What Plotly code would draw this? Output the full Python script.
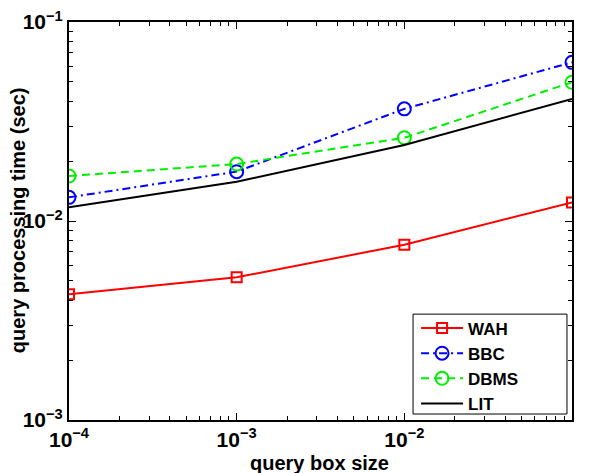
import plotly.graph_objects as go

box_size = [1e-4, 1e-3, 1e-2, 1e-1]
wah = [0.00428, 0.00521, 0.0076, 0.0124]
bbc = [0.01315, 0.0177, 0.0366, 0.0627]
dbms = [0.01683, 0.01933, 0.0262, 0.0498]
lit = [0.01172, 0.01575, 0.0241, 0.0410]

x_tickvals = [1e-4, 1e-3, 1e-2, 1e-1]
x_ticktext = ["10<sup>−4</sup>", "10<sup>−3</sup>", "10<sup>−2</sup>", "10<sup>−1</sup>"]
y_tickvals = [1e-3, 1e-2, 1e-1]
y_ticktext = ["10<sup>−3</sup>", "10<sup>−2</sup>", "10<sup>−1</sup>"]

FONT = "Liberation Sans, Arial, sans-serif"

def minor_vals(lo, hi):
    vals = []
    for e in range(lo, hi):
        for k in range(2, 10):
            vals.append(k * 10 ** e)
    return vals

fig = go.Figure()
fig.add_trace(go.Scatter(x=box_size, y=wah, name="WAH", mode="lines+markers",
                         line=dict(color="#ff0000", width=2),
                         marker=dict(symbol="square-open", size=10, color="#ff0000", line=dict(width=2))))
fig.add_trace(go.Scatter(x=box_size, y=bbc, name="BBC", mode="lines+markers",
                         line=dict(color="#0000ff", width=2, dash="8px,4px,2px,4px"),
                         marker=dict(symbol="circle-open", size=13, color="#0000ff", line=dict(width=2))))
fig.add_trace(go.Scatter(x=box_size, y=dbms, name="DBMS", mode="lines+markers",
                         line=dict(color="#00ee00", width=2, dash="8px,5px"),
                         marker=dict(symbol="circle-open", size=13, color="#00ee00", line=dict(width=2))))
fig.add_trace(go.Scatter(x=box_size, y=lit, name="LIT", mode="lines",
                         line=dict(color="#000000", width=2)))

axis_common = dict(
    type="log", showgrid=False, zeroline=False, automargin=False,
    showline=True, linecolor="black", linewidth=2, mirror="allticks",
    ticks="inside", ticklen=7, tickwidth=1, tickcolor="black",
    tickfont=dict(family=FONT, size=21, color="black", weight="bold"),
)

fig.update_xaxes(**axis_common, range=[-4, -1], tickmode="array",
                 tickvals=x_tickvals, ticktext=x_ticktext,
                 minor=dict(ticks="inside", ticklen=4, tickcolor="black", tickwidth=1,
                            tickmode="array", tickvals=minor_vals(-4, -1)))
fig.update_yaxes(**axis_common, range=[-3, -1], tickmode="array",
                 tickvals=y_tickvals, ticktext=y_ticktext,
                 minor=dict(ticks="inside", ticklen=4, tickcolor="black", tickwidth=1,
                            tickmode="array", tickvals=minor_vals(-3, -1)))

title_font = dict(family=FONT, size=20, color="black", weight="bold")
fig.add_annotation(text="query box size", xref="paper", yref="paper",
                   x=0.499, y=-0.108, xanchor="center", yanchor="middle",
                   showarrow=False, font=title_font)
fig.add_annotation(text="query processing time (sec)", xref="paper", yref="paper",
                   x=-0.101, y=0.5025, xanchor="center", yanchor="middle", textangle=-90,
                   showarrow=False, font=title_font)

# legend frame
fig.add_shape(type="rect", xref="paper", yref="paper", layer="above",
              x0=0.684, x1=0.990, y0=0.015, y1=0.266,
              fillcolor="white", line=dict(color="black", width=1))

fig.update_layout(
    width=590, height=473,
    margin=dict(l=69, r=18, t=22, b=53, autoexpand=False),
    paper_bgcolor="white", plot_bgcolor="white",
    font=dict(family=FONT, color="black"),
    legend=dict(x=0.69, y=0.275, xanchor="left", yanchor="top",
                bgcolor="rgba(0,0,0,0)", borderwidth=0, itemwidth=42,
                font=dict(family=FONT, size=17, color="black", weight="bold"),
                tracegroupgap=0),
    showlegend=True,
)

fig.write_html("out.html", config={"displayModeBar": False},
               post_script="document.body.style.margin='0';")
